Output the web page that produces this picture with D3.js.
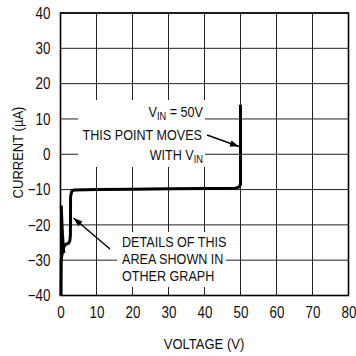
<!DOCTYPE html>
<html><head><meta charset="utf-8">
<script src="https://cdn.jsdelivr.net/npm/d3@7"></script>
<style>
html,body{margin:0;padding:0;background:#fff;}
svg{display:block;}
text{font-family:"Liberation Sans",Arial,sans-serif;fill:#111;}
</style></head>
<body>
<svg id="c" width="356" height="356"></svg>
<script>
// Tick values
const xTicks = [0,10,20,30,40,50,60,70,80];
const yTicks = [-40,-30,-20,-10,0,10,20,30,40];
// Main curve: voltage (V) and current (µA)
const mainVoltage = [0.15, 0.2, 0.4, 0.8, 1.4, 2.2, 2.6, 2.75, 2.8, 3.1, 3.8, 10, 20, 30, 40, 48.5, 49.6, 50, 50];
const mainCurrent = [-40, -30, -28.5, -26.5, -25.5, -25.2, -24.5, -23, -12, -10.5, -10.1, -10, -9.9, -9.8, -9.7, -9.6, -9.3, -8.5, 14];
// Thin trace near origin
const thinVoltage = [0.1, 0.15, 0.2];
const thinCurrent = [-40, -25, -14.8];
// Steep wedge near origin
const wedgeVoltage = [0.2, 0.5, 0.9];
const wedgeCurrent = [-14.5, -22, -28];

const svg = d3.select("#c");
const x = d3.scaleLinear().domain([0,80]).range([60.5,348.5]);
const y = d3.scaleLinear().domain([-40,40]).range([295.5,13]);
const L = x(0), R = x(80), T = y(40), B = y(-40);
const SX = 0.84;

// grid
const grid = svg.append("g").attr("stroke","#222").attr("stroke-width",1);
grid.selectAll("line.v").data(xTicks).join("line")
  .attr("x1",d=>x(d)).attr("x2",d=>x(d)).attr("y1",T).attr("y2",B);
grid.selectAll("line.h").data(yTicks).join("line")
  .attr("x1",L).attr("x2",R).attr("y1",d=>y(d)).attr("y2",d=>y(d));

// white boxes behind annotations
svg.append("rect").attr("x",78).attr("y",100).attr("width",127).attr("height",67).attr("fill","#fff");
svg.append("rect").attr("x",117).attr("y",232).attr("width",109).attr("height",55).attr("fill","#fff");

// frame
svg.append("rect").attr("x",L).attr("y",T).attr("width",R-L).attr("height",B-T)
  .attr("fill","none").attr("stroke","#000").attr("stroke-width",1.6);

// axes labels
const ax = svg.append("g").attr("transform",`translate(0,${B})`)
  .call(d3.axisBottom(x).tickValues(xTicks).tickSize(0).tickPadding(11));
const ay = svg.append("g").attr("transform",`translate(${L},0)`)
  .call(d3.axisLeft(y).tickValues(yTicks).tickSize(0).tickPadding(10));
[ax,ay].forEach(a=>{a.select(".domain").remove();a.selectAll("text").attr("font-size",16).attr("fill","#111")
  .style("font-family",'"Liberation Sans",Arial,sans-serif');});
ax.selectAll("text").attr("transform",`scale(${SX},1)`);
ay.selectAll("text").attr("transform",`scale(${SX},1)`).attr("x",-10/SX);

// data lines
const line = d3.line().x(d=>x(d[0])).y(d=>y(d[1]));
svg.append("path").datum(d3.zip(thinVoltage,thinCurrent)).attr("d",line)
  .attr("fill","none").attr("stroke","#000").attr("stroke-width",2);
svg.append("path").datum(d3.zip(wedgeVoltage,wedgeCurrent)).attr("d",line)
  .attr("fill","none").attr("stroke","#000").attr("stroke-width",3);
svg.append("path").datum(d3.zip(mainVoltage,mainCurrent)).attr("d",line)
  .attr("fill","none").attr("stroke","#000").attr("stroke-width",3).attr("stroke-linejoin","round");

// scaled text helper
function stext(px,py,anchor,size,rot){
  const g = svg.append("g").attr("transform",`translate(${px},${py})${rot?` rotate(${rot})`:""} scale(${SX},1)`);
  return g.append("text").attr("text-anchor",anchor).attr("font-size",size);
}
// annotations
const fs = 15;
const t1 = stext(203,117,"end",fs);
t1.append("tspan").text("V");
t1.append("tspan").attr("font-size",11).attr("dy",3).text("IN");
t1.append("tspan").attr("dy",-3).text(" = 50V");
stext(202,140,"end",fs).text("THIS POINT MOVES");
const t3 = stext(203,160,"end",fs);
t3.append("tspan").text("WITH V");
t3.append("tspan").attr("font-size",11).attr("dy",3).text("IN");

["DETAILS OF THIS","AREA SHOWN IN","OTHER GRAPH"].forEach((s,i)=>{
  stext(122,247+i*17,"start",fs).text(s);
});

// arrows
function arrow(x1,y1,x2,y2){
  svg.append("line").attr("x1",x1).attr("y1",y1).attr("x2",x2).attr("y2",y2).attr("stroke","#000").attr("stroke-width",1.4);
  const a = Math.atan2(y2-y1,x2-x1), l=9, w=3.2;
  const bx = x2 - l*Math.cos(a), by = y2 - l*Math.sin(a);
  svg.append("path").attr("d",`M${x2},${y2}L${bx+w*Math.sin(a)},${by-w*Math.cos(a)}L${bx-w*Math.sin(a)},${by+w*Math.cos(a)}Z`).attr("fill","#000");
}
arrow(207,135,239,146.5);
arrow(110,249,73.5,218);

// axis titles
stext(204,349,"middle",15.5).text("VOLTAGE (V)");
stext(23,152.5,"middle",15.5,-90).text("CURRENT (µA)");
</script>
</body></html>
